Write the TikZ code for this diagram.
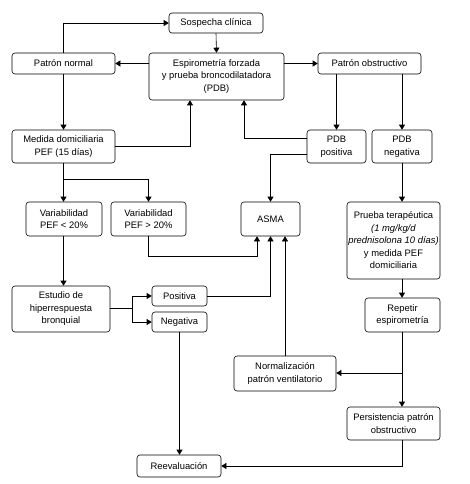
\documentclass[tikz,border=0pt]{standalone}
\usepackage{fontspec}
\setmainfont{Liberation Sans}
\usetikzlibrary{arrows.meta}
\begin{document}
\begin{tikzpicture}[x=1pt,y=-1pt,
  box/.style={draw,rounded corners=3pt,line width=0.6pt,align=center,inner sep=0pt,
    font=\fontsize{9.4}{12.5}\selectfont},
  arr/.style={line width=0.6pt,-{Triangle[length=5pt,width=6pt]}},
  ln/.style={line width=0.6pt}]
\useasboundingbox (0,0) rectangle (469,484);
\node[box,minimum width=94pt,minimum height=20pt] (sos) at (216,23) {Sospecha clínica};
\node[box,minimum width=103pt,minimum height=21pt] (pn) at (63.5,63.5) {Patrón normal};
\node[box,minimum width=135pt,minimum height=47pt] (esp) at (216.5,76.5) {Espirometría forzada\\y prueba broncodilatadora\\(PDB)};
\node[box,minimum width=103pt,minimum height=21pt] (po) at (369.5,63.5) {Patrón obstructivo};
\node[box,minimum width=103pt,minimum height=33pt] (med) at (63.5,146.5) {Medida domiciliaria\\PEF (15 días)};
\node[box,minimum width=59pt,minimum height=33pt] (pdbp) at (336.5,146.5) {PDB\\positiva};
\node[box,minimum width=60pt,minimum height=33pt] (pdbn) at (402,146.5) {PDB\\negativa};
\node[box,minimum width=76pt,minimum height=34pt] (v1) at (64,219) {Variabilidad\\PEF < 20\%};
\node[box,minimum width=75pt,minimum height=34pt] (v2) at (148.5,219) {Variabilidad\\PEF > 20\%};
\node[box,minimum width=59pt,minimum height=34pt] (asma) at (270.5,219) {ASMA};
\node[box,minimum width=93pt,minimum height=77pt] (pt) at (393.5,240.5) {Prueba terapéutica\\\textit{(1 mg/kg/d}\\\textit{prednisolona 10 días)}\\y medida PEF\\domiciliaria};
\node[box,minimum width=98pt,minimum height=46pt] (est) at (61,309) {Estudio de\\hiperrespuesta\\bronquial};
\node[box,minimum width=55pt,minimum height=20pt] (pos) at (179.5,296) {Positiva};
\node[box,minimum width=55pt,minimum height=20pt] (neg) at (179.5,322) {Negativa};
\node[box,minimum width=75pt,minimum height=34pt] (rep) at (402.5,315) {Repetir\\espirometría};
\node[box,minimum width=102pt,minimum height=35pt] (nor) at (285,373.5) {Normalización\\patrón ventilatorio};
\node[box,minimum width=93pt,minimum height=33pt] (per) at (393.5,423.5) {Persistencia patrón\\obstructivo};
\node[box,minimum width=84pt,minimum height=22pt] (ree) at (179,466) {Reevaluación};
\coordinate (b1) at (63.5,179);
\coordinate (c1) at (257,256);
\coordinate (b2) at (132,308);
\coordinate (b3) at (402,373);
% connectors
\draw[arr] (pn.north) |- (sos.west);
\draw[arr] (sos.south) -- (esp.north);
\draw[arr] (esp.west |- pn.east) -- (pn.east);
\draw[arr] (esp.east |- po.west) -- (po.west);
\draw[arr] (pdbp.north |- po.south) -- (pdbp.north);
\draw[arr] (pdbn.north |- po.south) -- (pdbn.north);
\draw[arr] (pn.south) -- (med.north);
\draw[arr] (med.east) -| ([xshift=-26.5pt]esp.south);
\draw[arr] ([yshift=8.5pt]pdbp.west) -| ([xshift=27.5pt]esp.south);
\draw[arr] ([yshift=-7.5pt]pdbp.west) -| (asma.north);
\draw[ln] (med.south) -- (b1);
\draw[arr] (b1) -- (b1 |- v1.north);
\draw[arr] (b1) -| (v2.north);
\draw[arr] (v1.south -| b1) -- (est.north -| b1);
\draw[arr] (v2.south) |- (c1) -- (c1 |- asma.south);
\draw[arr] (pos.east) -| (asma.south);
\draw[arr] (nor.north) -- (nor.north |- asma.south);
\draw[ln] (est.east |- b2) -- (b2);
\draw[arr] (b2) |- (pos.west);
\draw[arr] (b2) |- (neg.west);
\draw[arr] (pdbn.south) -- (pdbn.south |- pt.north);
\draw[arr] (pt.south -| b3) -- (rep.north -| b3);
\draw[ln] (rep.south -| b3) -- (b3);
\draw[arr] (b3) -- (b3 -| nor.east);
\draw[arr] (b3) -- (b3 |- per.north);
\draw[arr] (neg.south) -- (neg.south |- ree.north);
\draw[arr] (per.south -| b3) |- (ree.east);
\end{tikzpicture}
\end{document}
